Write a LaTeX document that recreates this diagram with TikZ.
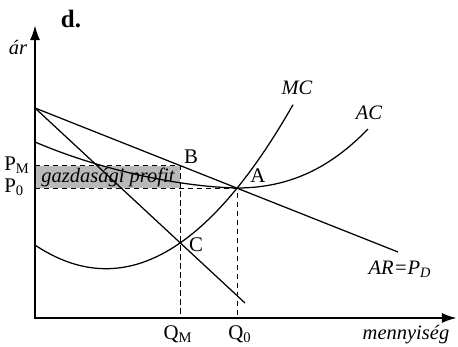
\documentclass[tikz,border=0pt]{standalone}
\usepackage{fontspec}
\setmainfont{Liberation Serif}
\usetikzlibrary{arrows.meta,positioning,calc}
\tikzset{
  axis/.style={line width=1.4pt,{Latex[length=9pt,width=6pt]}-{Latex[length=9pt,width=6pt]}},
  curve/.style={line width=0.75pt},
  guide/.style={line width=0.55pt,dash pattern=on 3.2pt off 2.2pt},
  lbl/.style={font=\fontsize{12.5}{14}\selectfont,inner sep=0pt},
  ilbl/.style={font=\fontsize{12.3}{14}\selectfont\itshape,inner sep=0pt},
}

\begin{document}
\begin{tikzpicture}[x=0.6pt,y=0.6pt]
\useasboundingbox (-35,-28) rectangle (423,318);
% points of the graph
\coordinate (O) at (0,0);
\coordinate (ytop) at (0,293);
\coordinate (xend) at (422,0);
\coordinate (Pz) at (0,210);
\coordinate (PM) at (0,152.5);
\coordinate (P0) at (0,130);
\coordinate (B) at (145,152.5);
\coordinate (A) at (202,130);
\coordinate (C) at (145,75.2);
\coordinate (QM) at (145,0);
\coordinate (Q0) at (202,0);
\coordinate (ARend) at (363,66);
\coordinate (MRend) at (210,15);
% profit area
\fill[gray!55] (PM) rectangle (B |- P0);
\draw[guide] (PM) -- (B) -- (QM);
\draw[guide] (P0) -- (A) -- (Q0);
% curves
\draw[curve] (Pz) -- (ARend);
\draw[curve] (Pz) -- (MRend);
\draw[curve] (0,176) .. controls (70,146) and (150,131) .. (A)
  .. controls (260,130) and (300,155) .. (333,189);
\draw[curve] plot[domain=0:258,samples=60,smooth] (\x,{49.3+(0.06848*(\x-71))^2});
\draw[axis] (ytop) -- (O) -- (xend);
% labels
\node[font=\fontsize{15}{17}\selectfont\bfseries,inner sep=0pt] (title) at (36,299) {d.};
\node[ilbl] (price) at (-17,271) {ár};
\node[ilbl] (qty) at (371,-17) {mennyiség};
\node[lbl,anchor=west] (PMlbl) at (-31,153) {P\textsubscript{M}};
\node[lbl,anchor=west] (P0lbl) at (-31,131) {P\textsubscript{0}};
\node[lbl] (QMlbl) at (143,-16) {Q\textsubscript{M}};
\node[lbl] (Q0lbl) at (205,-16) {Q\textsubscript{0}};
\node[lbl] (Blbl) at (156,161) {B};
\node[lbl] (Albl) at (223,142) {A};
\node[lbl] (Clbl) at (161,73) {C};
\node[ilbl] (MClbl) at (262,230) {MC};
\node[ilbl] (AClbl) at (334,205) {AC};
\node[ilbl] (ARlbl) at (365,49) {AR=P\textsubscript{D}};
\node[ilbl] (profit) at (73,141) {gazdasági profit};
\end{tikzpicture}
\end{document}
